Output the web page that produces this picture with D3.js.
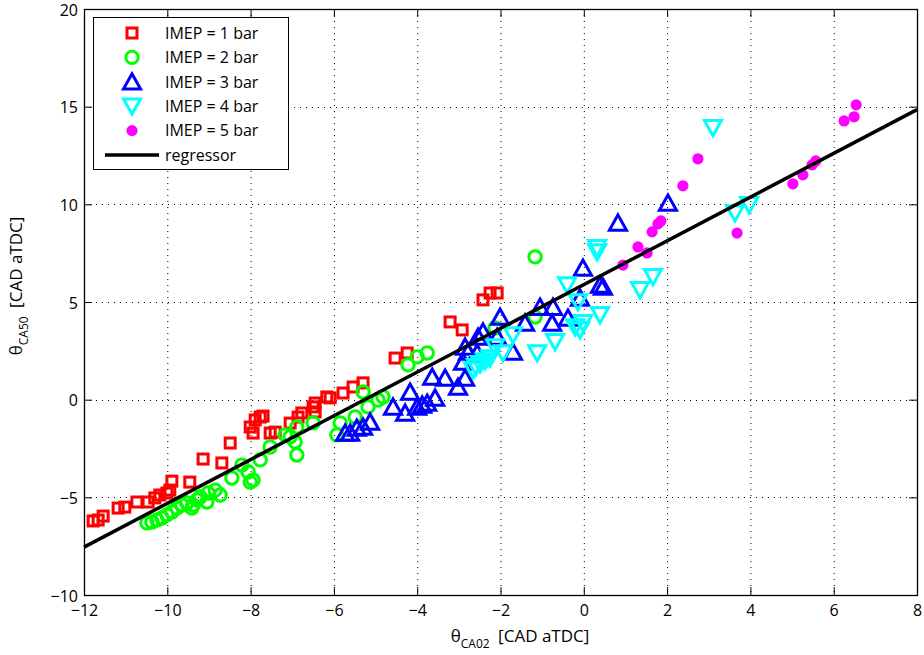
<!DOCTYPE html>
<html>
<head>
<meta charset="utf-8">
<script src="https://cdn.jsdelivr.net/npm/d3@7"></script>
<style>
  html, body { margin: 0; padding: 0; background: #fff; }
  svg { display: block; }
  text { font-family: "Open Sans", "Noto Sans", sans-serif; fill: #000; }
</style>
</head>
<body>
<svg id="chart" width="924" height="655"></svg>
<script>
// Axis ticks
const xTicks = [-12, -10, -8, -6, -4, -2, 0, 2, 4, 6, 8];
const yTicks = [-10, -5, 0, 5, 10, 15, 20];

// Measured CA02 / CA50 pairs for each load point
const imep1 = [
  [-11.78, -6.21], [-11.66, -6.16], [-11.54, -5.96], [-11.18, -5.55], [-11.02, -5.50],
  [-10.73, -5.24], [-10.46, -5.24], [-10.30, -5.03], [-10.18, -4.88], [-10.01, -4.78],
  [-9.94, -4.63], [-9.89, -4.17], [-9.46, -4.22], [-9.14, -3.04], [-8.69, -3.24],
  [-8.49, -2.22], [-8.01, -1.40], [-7.94, -1.71], [-7.89, -1.04], [-7.77, -0.89],
  [-7.70, -0.84], [-7.53, -1.71], [-7.41, -1.66], [-7.05, -1.20], [-6.86, -0.89],
  [-6.77, -0.68], [-6.50, -0.37], [-6.45, -0.17], [-6.45, -0.63], [-6.17, 0.14],
  [-6.09, 0.09], [-5.78, 0.34], [-5.54, 0.65], [-5.30, 0.86], [-4.53, 2.13],
  [-4.24, 2.39], [-3.21, 3.98], [-2.92, 3.57], [-2.42, 5.11], [-2.25, 5.46], [-2.08, 5.46]
];
const imep2 = [
  [-10.49, -6.31], [-10.37, -6.26], [-10.25, -6.16], [-10.13, -6.06], [-10.01, -5.90],
  [-9.89, -5.75], [-9.77, -5.55], [-9.65, -5.39], [-9.53, -5.29], [-9.41, -5.55],
  [-9.38, -5.39], [-9.29, -5.14], [-9.21, -4.98], [-9.05, -5.24], [-9.02, -4.78],
  [-8.85, -4.63], [-8.73, -4.88], [-8.45, -4.01], [-8.21, -3.35], [-8.06, -3.70],
  [-8.01, -4.22], [-7.94, -4.11], [-7.77, -3.08], [-7.53, -2.42], [-7.17, -1.80],
  [-7.05, -1.90], [-6.93, -2.16], [-6.89, -2.83], [-6.89, -1.40], [-6.50, -1.19],
  [-5.93, -1.80], [-5.85, -1.19], [-5.49, -0.89], [-5.30, 0.39], [-5.18, -0.37],
  [-4.94, -0.02], [-4.82, 0.14], [-4.22, 1.78], [-4.00, 2.19], [-3.76, 2.39],
  [-2.13, 3.67], [-1.17, 4.23], [-1.17, 7.31]
];
const imep3 = [
  [-5.73, -1.71], [-5.61, -1.71], [-5.45, -1.45], [-5.30, -1.40], [-5.13, -1.14],
  [-4.58, -0.37], [-4.29, -0.68], [-4.17, 0.39], [-4.00, -0.37], [-3.88, -0.27],
  [-3.76, -0.17], [-3.57, 0.09], [-3.64, 1.16], [-3.33, 1.11], [-3.02, 0.65],
  [-2.85, 1.11], [-2.90, 1.93], [-2.78, 2.44], [-2.54, 3.21], [-2.85, 2.70],
  [-2.56, 2.39], [-2.42, 3.47], [-2.01, 4.23], [-2.08, 3.21], [-1.70, 2.44],
  [-1.41, 3.93], [-1.05, 4.74], [-0.74, 4.74], [-0.76, 3.93], [-0.38, 4.18],
  [-0.09, 5.21], [-0.02, 6.74], [0.39, 5.87], [0.46, 5.77], [0.82, 9.05], [2.02, 10.07]
];
const imep4 = [
  [-2.66, 1.52], [-2.59, 1.68], [-2.49, 1.83], [-2.37, 1.98], [-2.25, 2.13],
  [-2.13, 2.70], [-1.94, 2.39], [-1.70, 3.31], [-1.12, 2.39], [-0.69, 2.96],
  [-0.40, 5.87], [-0.21, 3.72], [-0.14, 5.00], [-0.09, 3.57], [-0.02, 3.93],
  [0.39, 4.34], [0.32, 7.77], [0.32, 7.56], [1.35, 5.62], [1.66, 6.29],
  [3.10, 13.92], [3.63, 9.56], [3.97, 9.97]
];
const imep5 = [
  [0.94, 6.89], [1.30, 7.82], [1.52, 7.51], [1.64, 8.59], [1.78, 9.00],
  [1.85, 9.15], [2.38, 10.95], [2.74, 12.33], [3.68, 8.53], [5.02, 11.05],
  [5.26, 11.51], [5.48, 12.02], [5.57, 12.22], [6.25, 14.27], [6.49, 14.48], [6.54, 15.09]
];

// Linear regressor: CA50 = slope * CA02 + intercept
const regSlope = 1.12;
const regIntercept = 5.89;

const legendLabels = ["IMEP = 1 bar", "IMEP = 2 bar", "IMEP = 3 bar", "IMEP = 4 bar", "IMEP = 5 bar", "regressor"];

const svg = d3.select("#chart");
const plot = { left: 84, right: 917, top: 9, bottom: 595 };

const x = d3.scaleLinear().domain([-12, 8]).range([plot.left, plot.right]);
const y = d3.scaleLinear().domain([-10, 20]).range([plot.bottom, plot.top]);

// Dotted grid
const grid = svg.append("g").attr("stroke", "#000").attr("stroke-width", 1)
  .attr("stroke-dasharray", "1,5");
grid.selectAll(".gx").data(xTicks.slice(1, -1)).join("line")
  .attr("x1", d => x(d) + 0.5).attr("x2", d => x(d) + 0.5)
  .attr("y1", plot.top).attr("y2", plot.bottom);
grid.selectAll(".gy").data(yTicks.slice(1, -1)).join("line")
  .attr("y1", d => Math.round(y(d)) + 0.5).attr("y2", d => Math.round(y(d)) + 0.5)
  .attr("x1", plot.left).attr("x2", plot.right);

// Axes (ticks pointing inward on all four sides)
const tickLen = 8;
const fmt = d3.format("");
const axB = svg.append("g").attr("transform", `translate(0,${plot.bottom})`)
  .call(d3.axisBottom(x).tickValues(xTicks).tickSize(-tickLen).tickPadding(10).tickFormat(fmt));
const axT = svg.append("g").attr("transform", `translate(0,${plot.top})`)
  .call(d3.axisTop(x).tickValues(xTicks).tickSize(-tickLen).tickFormat(""));
const axL = svg.append("g").attr("transform", `translate(${plot.left},0)`)
  .call(d3.axisLeft(y).tickValues(yTicks).tickSize(-tickLen).tickPadding(6).tickFormat(fmt));
const axR = svg.append("g").attr("transform", `translate(${plot.right},0)`)
  .call(d3.axisRight(y).tickValues(yTicks).tickSize(-tickLen).tickFormat(""));
[axB, axT, axL, axR].forEach(a => {
  a.select(".domain").remove();
  a.selectAll("line").attr("stroke", "#000").attr("stroke-width", 1);
  a.selectAll("text").attr("font-size", 16).attr("font-family", "Open Sans, Noto Sans, sans-serif").attr("fill", "#000");
});
axB.selectAll("text").attr("dy", "0.71em");
axL.selectAll("text").attr("dy", "0.38em");

// Frame
svg.append("rect")
  .attr("x", plot.left + 0.5).attr("y", plot.top + 0.5)
  .attr("width", plot.right - plot.left).attr("height", plot.bottom - plot.top)
  .attr("fill", "none").attr("stroke", "#000").attr("stroke-width", 1.3);

// Marker drawers
const sq = 10, circR = 6.2, tri = 9, dotR = 5.6, mw = 3;
function drawSquare(g, cx, cy) {
  g.append("rect").attr("x", cx - sq / 2).attr("y", cy - sq / 2).attr("width", sq).attr("height", sq)
    .attr("fill", "none").attr("stroke", "#ff0000").attr("stroke-width", mw);
}
function drawCircle(g, cx, cy) {
  g.append("circle").attr("cx", cx).attr("cy", cy).attr("r", circR)
    .attr("fill", "none").attr("stroke", "#00ff00").attr("stroke-width", mw);
}
function triPath(cx, cy, up) {
  const s = up ? -1 : 1;
  const h = tri;
  return `M${cx},${cy + s * h} L${cx + h * 0.95},${cy - s * h * 0.7} L${cx - h * 0.95},${cy - s * h * 0.7} Z`;
}
function drawUp(g, cx, cy) {
  g.append("path").attr("d", triPath(cx, cy + 1, true))
    .attr("fill", "none").attr("stroke", "#0000ff").attr("stroke-width", mw).attr("stroke-linejoin", "miter");
}
function drawDown(g, cx, cy) {
  g.append("path").attr("d", triPath(cx, cy - 1, false))
    .attr("fill", "none").attr("stroke", "#00ffff").attr("stroke-width", mw).attr("stroke-linejoin", "miter");
}
function drawDot(g, cx, cy) {
  g.append("circle").attr("cx", cx).attr("cy", cy).attr("r", dotR).attr("fill", "#ff00ff");
}

const series = [
  { data: imep1, draw: drawSquare },
  { data: imep2, draw: drawCircle },
  { data: imep3, draw: drawUp },
  { data: imep4, draw: drawDown },
  { data: imep5, draw: drawDot }
];

const marks = svg.append("g");
series.forEach(s => {
  const g = marks.append("g");
  s.data.forEach(([a, b]) => s.draw(g, x(a), y(b)));
});

// Regressor line across the full x range
const regLine = d3.line().x(d => x(d)).y(d => y(regSlope * d + regIntercept));
svg.append("path").datum(x.domain()).attr("d", regLine)
  .attr("fill", "none").attr("stroke", "#000").attr("stroke-width", 3.5);

// Legend
const lg = svg.append("g");
lg.append("rect").attr("x", 93.5).attr("y", 17.5).attr("width", 195).attr("height", 152)
  .attr("fill", "#fff").attr("stroke", "#000").attr("stroke-width", 1);
const rowY = i => 33 + i * 24.4;
const legendDraw = [drawSquare, drawCircle, drawUp, drawDown, drawDot];
legendDraw.forEach((fn, i) => fn(lg, 132, rowY(i)));
lg.append("line").attr("x1", 105).attr("x2", 159).attr("y1", rowY(5)).attr("y2", rowY(5))
  .attr("stroke", "#000").attr("stroke-width", 3.5);
lg.selectAll("text.lbl").data(legendLabels).join("text")
  .attr("class", "lbl")
  .attr("x", 165).attr("y", (d, i) => rowY(i)).attr("dy", "0.36em")
  .attr("font-size", 16).text(d => d);

// Axis titles
const xt = svg.append("text").attr("x", 520).attr("y", 642).attr("text-anchor", "middle").attr("font-size", 17);
xt.append("tspan").text("θ");
xt.append("tspan").attr("font-size", 12).attr("dy", 6).text("CA02");
xt.append("tspan").attr("dy", -6).text("\u2002[CAD aTDC]");

const yt = svg.append("text").attr("transform", "translate(22,286) rotate(-90)")
  .attr("text-anchor", "middle").attr("font-size", 17);
yt.append("tspan").text("θ");
yt.append("tspan").attr("font-size", 12).attr("dy", 6).text("CA50");
yt.append("tspan").attr("dy", -6).text("\u2002[CAD aTDC]");
</script>
</body>
</html>
